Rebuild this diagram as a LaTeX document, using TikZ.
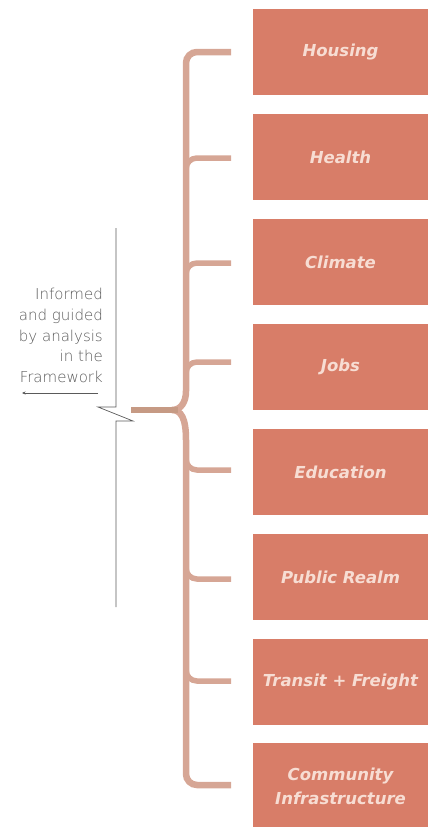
\documentclass[tikz,border=0pt]{standalone}
\usepackage{fontspec}
\usetikzlibrary{arrows.meta}
\IfFontExistsTF{DejaVu Sans ExtraLight}{\newfontfamily\lightfont{DejaVu Sans ExtraLight}}{\newfontfamily\lightfont{DejaVu Sans}}
\newfontfamily\boxfont{DejaVu Sans}
\definecolor{boxfill}{HTML}{D87D68}
\definecolor{boxtext}{HTML}{F7DDD3}
\definecolor{bracecol}{HTML}{D6A695}
\definecolor{stemcol}{HTML}{C69A84}
\definecolor{labelgray}{HTML}{5A5A5A}
\tikzset{
  topic/.style={fill=boxfill, draw=none, minimum width=175pt, minimum height=86pt,
    inner sep=2pt, align=center, text=boxtext,
    font=\boxfont\bfseries\itshape\fontsize{16.5}{24}\selectfont},
  bracepath/.style={draw=bracecol, line width=6.5pt, line cap=butt, rounded corners=11pt},
  thinline/.style={draw=labelgray, line width=0.7pt},
}
\begin{document}
\begin{tikzpicture}[x=1pt,y=-1pt]
\useasboundingbox (0,0) rectangle (428,827);
% boxes
\node[topic] (b1) at (340.5,52)  {Housing};
\node[topic] (b2) at (340.5,157) {Health};
\node[topic] (b3) at (340.5,262) {Climate};
\node[topic] (b4) at (340.5,367) {Jobs};
\node[topic] (b5) at (340.5,472) {Education};
\node[topic] (b6) at (340.5,577) {Public Realm};
\node[topic] (b7) at (340.5,682) {Transit + Freight};
\node[topic] (b8) at (340.5,786) {Community\\Infrastructure};
% brace
\coordinate (e1) at (231,52);
\coordinate (e2) at (231,158);
\coordinate (e3) at (231,263);
\coordinate (e4) at (231,362);
\coordinate (e5) at (231,470);
\coordinate (e6) at (231,579);
\coordinate (e7) at (231,681);
\coordinate (e8) at (231,785);
\coordinate (tip) at (172,410);
\coordinate (stem) at (131,410);
\draw[bracepath] (e1) -- (186,52) -- (186,380)
  [sharp corners] .. controls (186,402) and (181,410) .. (tip);
\draw[bracepath] (tip) [sharp corners] .. controls (181,410) and (186,418) .. (186,440)
  [rounded corners=11pt] -- (186,785) -- (e8);
\draw[draw=stemcol, line width=6.5pt] (stem) -- (178,410);
\foreach \c/\y in {e2/158,e3/263,e4/362}{
  \draw[draw=bracecol, line width=5.5pt] (\c) -- (197,\y) to[out=180,in=90] (186,\y+11);
}
\foreach \c/\y in {e5/470,e6/579,e7/681}{
  \draw[draw=bracecol, line width=5.5pt] (\c) -- (197,\y) to[out=180,in=-90] (186,\y-11);
}
% left label
\coordinate (l1) at (116,228);
\coordinate (l2) at (116,607);
\draw[thinline] (l1) -- (116,407) -- (98,407) -- (133,421) -- (116,421) -- (l2);
\coordinate (a1) at (98,393);
\coordinate (a2) at (22,393);
\draw[thinline, -{Stealth[length=3.5pt,width=3pt]}] (a1) -- (a2);
\node[anchor=north east, align=right, inner sep=0pt, text=labelgray,
  font=\lightfont\fontsize{15}{20.7}\selectfont] (lbl) at (103,288)
  {Informed\\and guided\\by analysis\\in the\\Framework};
\end{tikzpicture}
\end{document}
